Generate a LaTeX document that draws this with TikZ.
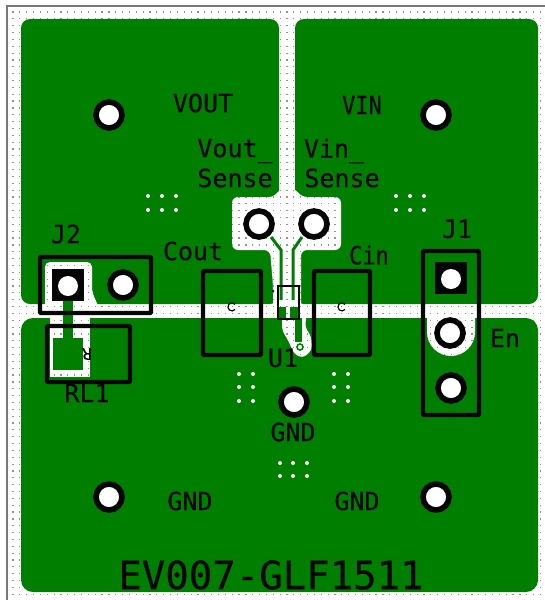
\documentclass[tikz,border=0pt]{standalone}
\usepackage{fontspec}
\setmainfont[FakeBold=0.35]{DejaVu Sans Mono}
\definecolor{copper}{RGB}{0,126,0}
\definecolor{silk}{RGB}{5,5,5}
\definecolor{framegray}{RGB}{120,120,120}
\definecolor{griddot}{RGB}{145,145,145}
\tikzset{
  x=1pt,y=-1pt,
  cu/.style={fill=copper,draw=none},
  cut/.style={fill=white,draw=none},
  silkbox/.style={draw=silk,line width=4.2pt,fill=none,rounded corners=0.8pt},
  ringpad/.style={circle,draw=silk,fill=white,line width=5.6pt,minimum size=26pt,inner sep=0pt},
  sqpad/.style={rectangle,draw=none,fill=silk,minimum size=32pt,inner sep=0pt},
  lbl/.style={font=\fontsize{25}{25}\selectfont,text=silk,inner sep=0pt,align=center},
  viadot/.style={fill=white,draw=none},
}
\newcommand\griddots[4]{%
  \foreach \i in {#1,...,#2} \foreach \j in {#3,...,#4}
    \fill[griddot] ({13+\i*6.85-0.6},{12+\j*6.85-0.6}) rectangle +(1.2,1.2);}
\newcommand\clearance[6][]{%
  \fill[cut,#1] #2;
  \begin{scope}\clip[#1] #2; \griddots{#3}{#4}{#5}{#6}\end{scope}}
\begin{document}
\begin{tikzpicture}
\useasboundingbox (0,0) rectangle (545,600);
\fill[white] (0,0) rectangle (545,600);
\griddots{0}{77}{0}{85}
\draw[framegray,line width=2.4pt] (7,600) -- (7,6) -- (545,6);
% copper pours
\fill[cu,rounded corners=9pt] (21,19) -- (279,19) -- (279,304) -- (21,304) -- cycle;
\fill[cu,rounded corners=9pt] (295,19) -- (538,19) -- (538,304) -- (295,304) -- cycle;
\fill[cu,rounded corners=12pt] (21,318) -- (538,318) -- (538,592) -- (21,592) -- cycle;
% clearances
\clearance[rounded corners=6pt]{(232,197) -- (275,197) -- (280,188) -- (295,188) -- (301,197) -- (341,197) -- (341,250) -- (301,250) -- (301,312) -- (273,312) -- (273,285) -- (270,250) -- (232,250) -- cycle}{32}{48}{26}{44}
\clearance[rounded corners=4pt]{(282,312) -- (307,312) -- (305,327) -- (311,336) -- (312,350) -- (303,358) -- (294,354) -- (289,342) -- (282,330) -- cycle}{39}{44}{44}{51}
\clearance[rounded corners=5pt]{(45,262) -- (92,262) -- (92,292) -- (100,310) -- (45,310) -- cycle}{4}{13}{36}{44}
\clearance{(50,315) rectangle (90,377)}{5}{12}{44}{54}
\clearance{(427,304) -- (475,304) -- (475,332) arc[start angle=0,end angle=180,x radius=24,y radius=24] -- cycle}{60}{68}{42}{51}
% green pads and traces
\fill[cu] (53,338) rectangle (83,370);
\fill[cu] (63,300) rectangle (73,338);
\draw[copper,line width=3pt] (271,237) -- (281,250) -- (281,300);
\draw[copper,line width=3pt] (302,237) -- (293,250) -- (293,300);
\fill[cu] (279,307) rectangle (286,318);
\fill[cu] (290,307) rectangle (298,318);
\fill[cu] (295,318) rectangle (302,342);
\node[circle,draw=copper,fill=white,line width=1.6pt,minimum size=6pt,inner sep=0pt] (via) at (300,347) {};
% pads
\node[sqpad] (j2a) at (68,285) {};
\node[circle,fill=white,minimum size=20pt,inner sep=0pt] (j2ah) at (68,286) {};
\node[ringpad] (j2b) at (123,285) {};
\node[sqpad] (j1a) at (451,278) {};
\node[circle,fill=white,minimum size=20pt,inner sep=0pt] (j1ah) at (451,279) {};
\node[ringpad] (j1b) at (450,333) {};
\node[ringpad] (j1c) at (451,388) {};
\node[ringpad] (vs1) at (259,224) {};
\node[ringpad] (vs2) at (314,224) {};
\node[ringpad] (p1) at (109,115) {};
\node[ringpad] (p2) at (436,115) {};
\node[ringpad] (p3) at (294,402) {};
\node[ringpad] (p4) at (109,497) {};
\node[ringpad] (p5) at (436,497) {};
% via arrays
\foreach \cx/\cy in {148/196,148/210,162/196,162/210,176/196,176/210,
                     396/196,396/210,410/196,410/210,424/196,424/210,
                     239/374,239/387,239/401,253/374,253/387,253/401,
                     334/374,334/387,334/401,348/374,348/387,348/401,
                     280/463,280/476,293/463,293/476,307/463,307/476}
  \fill[viadot] (\cx,\cy) circle (2);
% silkscreen
\draw[silkbox] (40,257) rectangle (151,313);
\draw[silkbox] (47,326) rectangle (130,382);
\draw[silkbox] (423,251) rectangle (479,415);
\draw[silkbox] (203,271) rectangle (261,355);
\draw[silkbox] (314,271) rectangle (370,355);
\draw[silk,line width=1.3pt] (278,286) rectangle (299,319);
\fill[silk] (273,291) circle (1.4);
\draw[silk,line width=1.2pt] (235,309.5) arc[start angle=40,end angle=320,radius=4];
\draw[silk,line width=1.2pt] (345,309.5) arc[start angle=40,end angle=320,radius=4];
\node[rotate=180,font=\fontsize{16}{16}\selectfont,text=silk,inner sep=0pt] (rmark) at (87,354) {R};
% labels
\node[lbl] (t1) at (203,103) {VOUT};
\node[lbl,xscale=0.88] (t2) at (362,105) {VIN};
\node[lbl] (t3) at (235,151) {Vout\_};
\node[lbl] (t4) at (235,178) {Sense};
\node[lbl] (t5) at (334,151) {Vin\_};
\node[lbl] (t6) at (342,178) {Sense};
\node[lbl] (t7) at (66,234) {J2};
\node[lbl] (t8) at (193,251) {Cout};
\node[lbl,xscale=0.88] (t9) at (369,255) {Cin};
\node[lbl] (t10) at (457,229) {J1};
\node[lbl] (t11) at (505,338) {En};
\node[lbl] (t12) at (283,358) {U1};
\node[lbl] (t13) at (87,393) {RL1};
\node[lbl] (t14) at (293,432) {GND};
\node[lbl] (t15) at (190,501) {GND};
\node[lbl] (t16) at (357,501) {GND};
\node[font=\fontsize{39}{39}\selectfont,text=silk,inner sep=0pt] (title) at (271,575) {EV007-GLF1511};
\end{tikzpicture}
\end{document}
